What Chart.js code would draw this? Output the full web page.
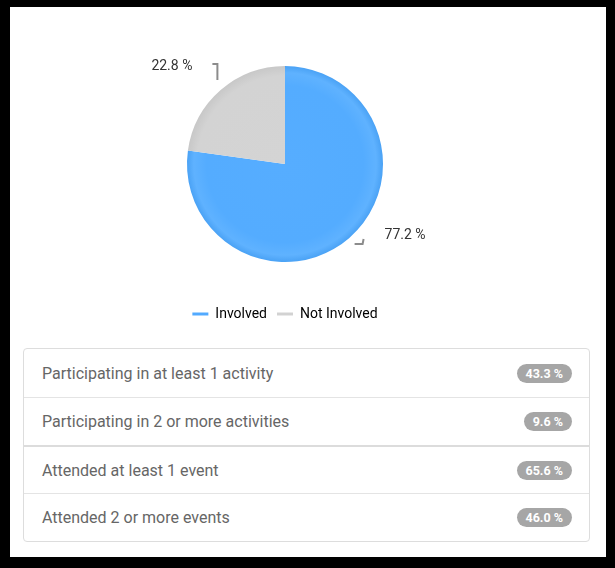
<!DOCTYPE html>
<html>
<head>
<meta charset="utf-8">
<script src="https://cdn.jsdelivr.net/npm/chart.js@4.4.1/dist/chart.umd.min.js"></script>
<style>
  html, body { margin: 0; padding: 0; background: #000; width: 615px; height: 568px; overflow: hidden; font-family: Roboto, "Open Sans", sans-serif; }
  #panel { position: absolute; left: 10px; top: 7px; width: 596px; height: 550px; background: #fff; }
  #chartBox { position: absolute; left: 10px; top: 7px; width: 550px; height: 330px; }
  #list { position: absolute; left: 23px; top: 348px; width: 565px; border: 1px solid #dddddd; border-radius: 4px; background: #fff; }
  .row { height: 48px; border-top: 1px solid #e4e4e4; display: flex; align-items: center; justify-content: space-between; padding: 0 17px 0 18px; box-sizing: border-box; }
  .row:first-child { border-top: none; height: 48px; }
  .row.strong { border-top: 2px solid #dcdcdc; }
  .row .txt { font-size: 16px; color: #666; }
  .row .badge { background: #a6a6a6; color: #fff; font-weight: bold; font-size: 12.5px; border-radius: 10px; padding: 3px 9px 3px 9px; line-height: 13px; }
</style>
</head>
<body>
<div id="panel"></div>
<div id="chartBox"><canvas id="c"></canvas></div>
<div id="list"></div>
<script>
const categories = ["Involved", "Not Involved"];
const shares = [77.2, 22.8];
const sliceColors = ["#52aaff", "#d2d2d2"];
const listLabels = [
  "Participating in at least 1 activity",
  "Participating in 2 or more activities",
  "Attended at least 1 event",
  "Attended 2 or more events"
];
const listValues = [43.3, 9.6, 65.6, 46.0];

// Build the list panel
const list = document.getElementById('list');
listLabels.forEach((t, i) => {
  const r = document.createElement('div');
  r.className = 'row' + (i === 2 ? ' strong' : '');
  r.innerHTML = '<span class="txt"></span><span class="badge"></span>';
  r.querySelector('.txt').textContent = t;
  r.querySelector('.badge').textContent = listValues[i].toFixed(1) + ' %';
  list.appendChild(r);
});

const labelPlugin = {
  id: 'outLabels',
  afterDatasetsDraw(chart) {
    const ctx = chart.ctx;
    const meta = chart.getDatasetMeta(0);
    ctx.save();
    ctx.font = '14px Roboto, sans-serif';
    ctx.fillStyle = '#333';
    ctx.strokeStyle = '#8c8c8c';
    ctx.lineWidth = 2;
    ctx.textBaseline = 'middle';
    meta.data.forEach((arc, i) => {
      const mid = (arc.startAngle + arc.endAngle) / 2;
      const r = arc.outerRadius;
      const ax = arc.x + Math.cos(mid) * (r + 8);
      const ay = arc.y + Math.sin(mid) * (r + 8);
      const txt = shares[i].toFixed(1) + ' %';
      ctx.beginPath();
      if (Math.cos(mid) >= 0) {
        ctx.moveTo(ax, ay);
        ctx.lineTo(ax + 8, ay);
        ctx.lineTo(ax + 9, ay - 5);
        ctx.stroke();
        ctx.textAlign = 'left';
        ctx.fillText(txt, ax + 30, ay - 8);
      } else {
        ctx.moveTo(ax + 2, ay - 4);
        ctx.lineTo(ax + 2, ay - 20);
        ctx.lineTo(ax - 3, ay - 20);
        ctx.stroke();
        ctx.textAlign = 'right';
        ctx.fillText(txt, ax - 23, ay - 18);
      }
    });
    ctx.restore();
  }
};

function shade(context) {
  const chart = context.chart;
  const base = sliceColors[context.dataIndex];
  const ca = chart.chartArea;
  if (!ca) return base;
  const cx = (ca.left + ca.right) / 2, cy = (ca.top + ca.bottom) / 2;
  const g = chart.ctx.createRadialGradient(cx, cy, 0, cx, cy, 98);
  if (context.dataIndex === 0) {
    g.addColorStop(0, '#56adff');
    g.addColorStop(0.8, '#54acff');
    g.addColorStop(0.93, '#5fb2ff');
    g.addColorStop(1, '#4aa2f5');
  } else {
    g.addColorStop(0, '#d4d4d4');
    g.addColorStop(0.9, '#d3d3d3');
    g.addColorStop(1, '#c8c8c8');
  }
  return g;
}

new Chart(document.getElementById('c'), {
  type: 'pie',
  data: {
    labels: categories,
    datasets: [{
      data: shares,
      backgroundColor: shade,
      borderWidth: 0,
      radius: 98
    }]
  },
  plugins: [labelPlugin],
  options: {
    responsive: true,
    maintainAspectRatio: false,
    animation: false,
    layout: { padding: { top: 24, bottom: 6, left: 0, right: 0 } },
    plugins: {
      tooltip: { enabled: false },
      legend: {
        position: 'bottom',
        labels: {
          boxWidth: 16,
          boxHeight: 3,
          padding: 10,
          color: '#444',
          font: { family: 'Roboto', size: 14 },
          generateLabels(chart) {
            return categories.map((c, i) => ({
              text: c,
              fillStyle: sliceColors[i],
              strokeStyle: sliceColors[i],
              lineWidth: 0,
              index: i,
              hidden: false
            }));
          }
        }
      }
    }
  }
});
</script>
</body>
</html>
